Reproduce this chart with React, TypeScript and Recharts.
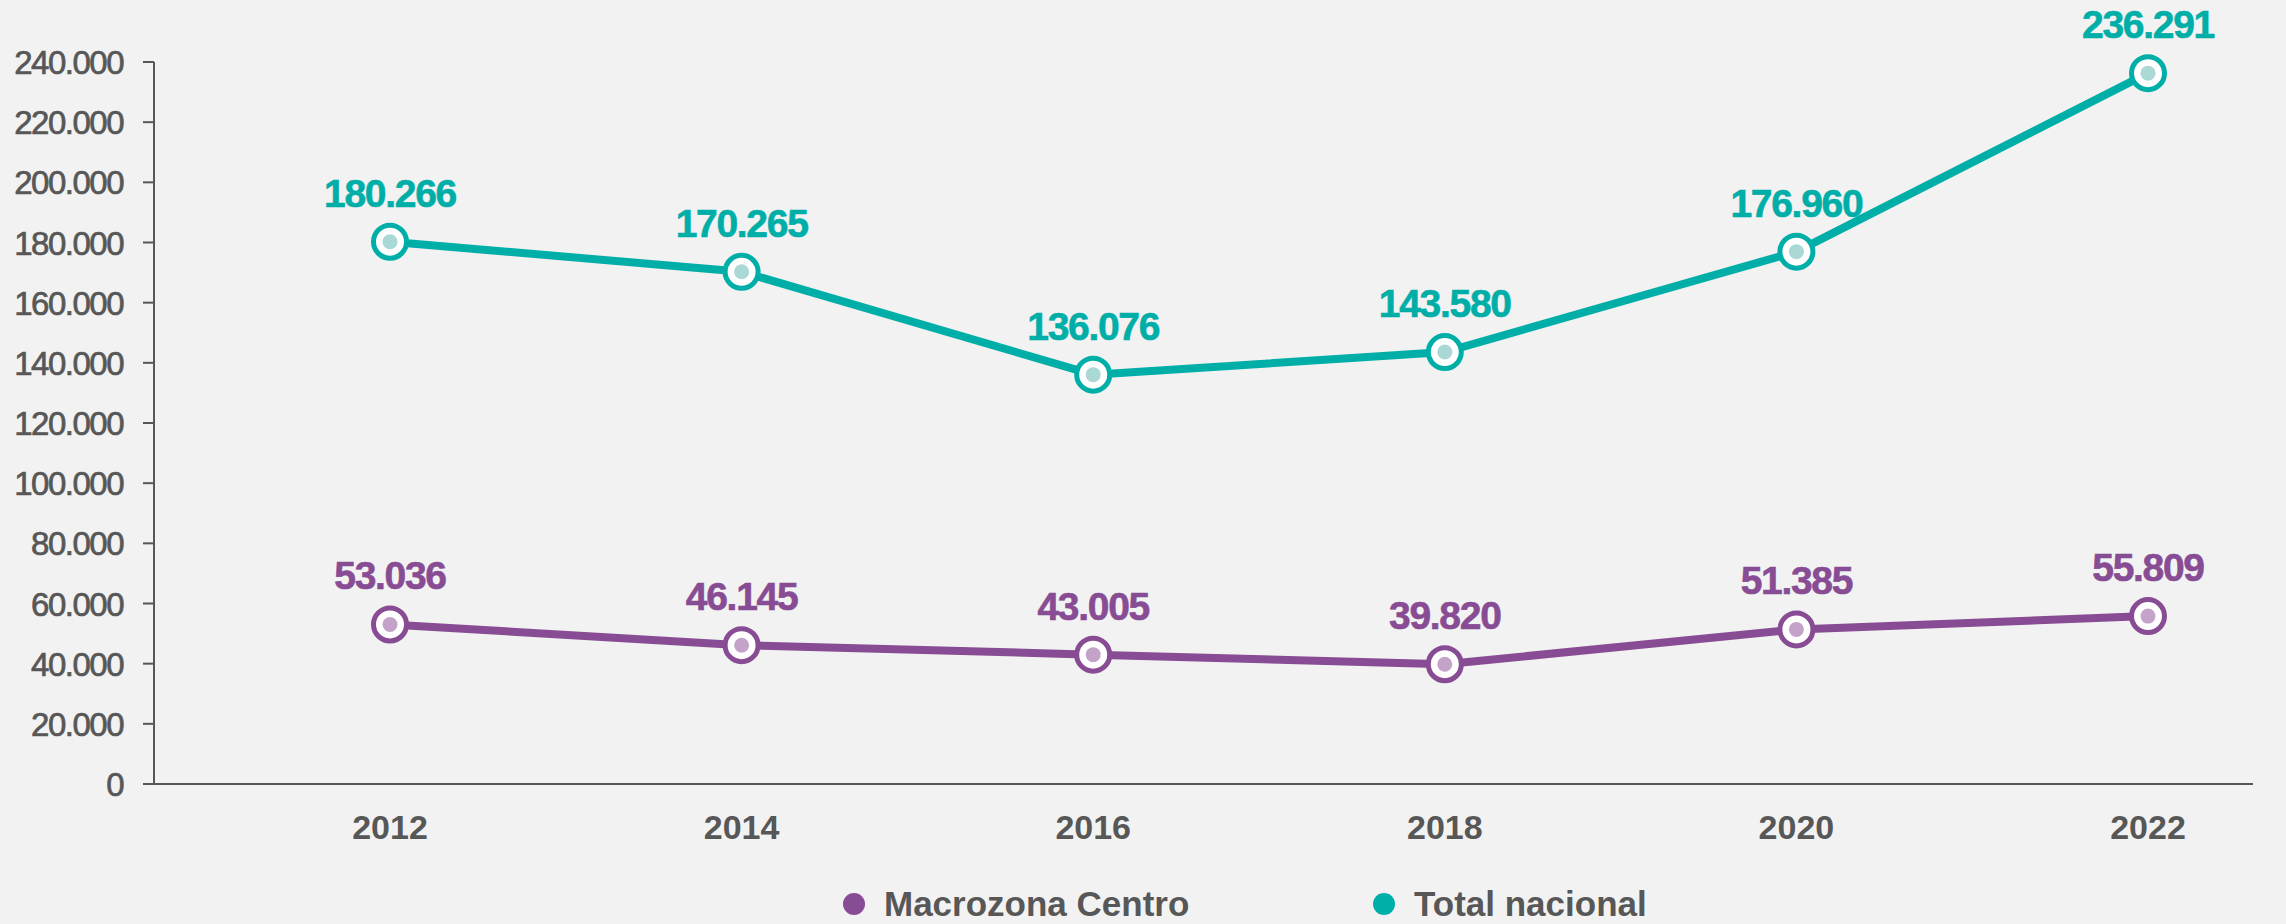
import React from "react";
import { LineChart, Line, XAxis, YAxis, LabelList } from "recharts";

const years = ["2012", "2014", "2016", "2018", "2020", "2022"];
const macrozonaCentro = [53036, 46145, 43005, 39820, 51385, 55809];
const totalNacional = [180266, 170265, 136076, 143580, 176960, 236291];
const yTicks = [0, 20000, 40000, 60000, 80000, 100000, 120000, 140000, 160000, 180000, 200000, 220000, 240000];

const PURPLE = "#874C93";
const PURPLE_LIGHT = "#C4A3C9";
const TEAL = "#00AEA8";
const TEAL_LIGHT = "#A9D8D5";
const GRAY = "#575757";
const FONT = "'Liberation Sans', Arial, sans-serif";

const data = years.map((y, i) => ({
  year: y,
  macro: macrozonaCentro[i],
  total: totalNacional[i],
}));

const fmt = (v: number) => String(v).replace(/\B(?=(\d{3})+(?!\d))/g, ".");

const makeDot = (stroke: string, inner: string) => (props: any) => {
  const { cx, cy, index } = props;
  if (cx == null || cy == null) return <g key={index} />;
  return (
    <g key={index}>
      <circle cx={cx} cy={cy} r={16.5} fill="#ffffff" stroke={stroke} strokeWidth={5} />
      <circle cx={cx} cy={cy} r={7.5} fill={inner} />
    </g>
  );
};

const makeLabel = (color: string) => (props: any) => {
  const { x, y, value, index } = props;
  return (
    <text
      key={index}
      x={x}
      y={y - 35}
      textAnchor="middle"
      fill={color}
      stroke={color}
      strokeWidth={0.6}
      fontFamily={FONT}
      fontWeight="bold"
      fontSize={39}
      letterSpacing={-1.3}
    >
      {fmt(value)}
    </text>
  );
};

const YTick = (props: any) => {
  const { x, y, payload } = props;
  return (
    <text
      x={x}
      y={y + 12}
      textAnchor="end"
      fill={GRAY}
      stroke={GRAY}
      strokeWidth={0.7}
      fontFamily={FONT}
      fontSize={33}
      letterSpacing={-1.5}
    >
      {fmt(payload.value)}
    </text>
  );
};

const XTick = (props: any) => {
  const { x, y, payload } = props;
  return (
    <text
      x={x}
      y={y + 55}
      textAnchor="middle"
      fill={GRAY}
      fontFamily={FONT}
      fontWeight="bold"
      fontSize={34}
    >
      {payload.value}
    </text>
  );
};

const legendItems = [
  { label: "Macrozona Centro", color: PURPLE, left: 843 },
  { label: "Total nacional", color: TEAL, left: 1373 },
];

export default function App() {
  return (
    <div
      style={{
        position: "absolute",
        left: 0,
        top: 0,
        width: 2286,
        height: 924,
        background: "#F2F2F2",
        overflow: "hidden",
      }}
    >
      <LineChart
        width={2286}
        height={924}
        data={data}
        margin={{ top: 62, right: 33, bottom: 80, left: 0 }}
      >
        <XAxis
          dataKey="year"
          padding={{ left: 236, right: 105 }}
          tickLine={false}
          tickSize={0}
          tickMargin={0}
          axisLine={{ stroke: GRAY, strokeWidth: 2 }}
          tick={<XTick />}
          height={60}
          interval={0}
        />
        <YAxis
          domain={[0, 240000]}
          ticks={yTicks}
          width={154}
          tickSize={11}
          tickMargin={20}
          tickLine={{ stroke: GRAY, strokeWidth: 2 }}
          axisLine={{ stroke: GRAY, strokeWidth: 2 }}
          tick={<YTick />}
          interval={0}
        />
        <Line
          dataKey="total"
          stroke={TEAL}
          strokeWidth={8}
          dot={makeDot(TEAL, TEAL_LIGHT)}
          activeDot={false}
          isAnimationActive={false}
        >
          <LabelList dataKey="total" content={makeLabel(TEAL)} />
        </Line>
        <Line
          dataKey="macro"
          stroke={PURPLE}
          strokeWidth={8}
          dot={makeDot(PURPLE, PURPLE_LIGHT)}
          activeDot={false}
          isAnimationActive={false}
        >
          <LabelList dataKey="macro" content={makeLabel(PURPLE)} />
        </Line>
      </LineChart>
      {legendItems.map((it) => (
        <div
          key={it.label}
          style={{
            position: "absolute",
            left: it.left,
            top: 884,
            display: "flex",
            alignItems: "center",
            height: 40,
            lineHeight: "40px",
            fontFamily: FONT,
            fontWeight: "bold",
            fontSize: 35,
            color: GRAY,
            whiteSpace: "nowrap",
          }}
        >
          <span
            style={{
              display: "inline-block",
              width: 22,
              height: 22,
              borderRadius: 11,
              background: it.color,
              marginRight: 19,
            }}
          />
          <span>{it.label}</span>
        </div>
      ))}
    </div>
  );
}
